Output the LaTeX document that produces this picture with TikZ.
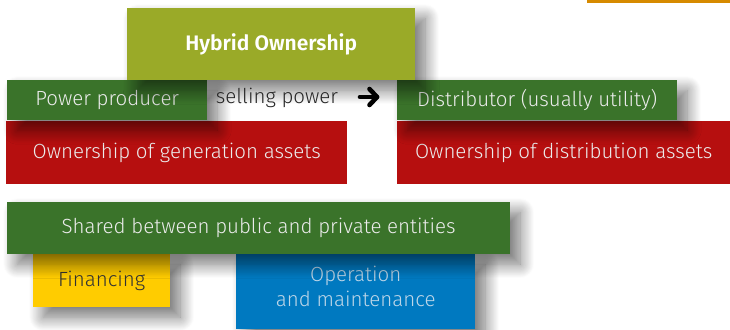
\documentclass[tikz,border=0pt]{standalone}
\usepackage{fontspec}
\setmainfont{Fira Sans Light}[BoldFont=Fira Sans SemiBold]
\usetikzlibrary{shadows.blur}

\definecolor{olive}{RGB}{154,170,40}
\definecolor{leaf}{RGB}{58,115,42}
\definecolor{brick}{RGB}{182,15,15}
\definecolor{sun}{RGB}{255,204,0}
\definecolor{sea}{RGB}{0,121,192}
\definecolor{amber}{RGB}{214,138,0}
\definecolor{paletxt}{RGB}{236,236,236}
\definecolor{icetxt}{RGB}{190,214,232}

\tikzset{
  txt/.style={font=\fontsize{20.5}{25}\selectfont},
  box/.style={rectangle, inner sep=0pt, anchor=north west, align=center,
    txt, text=paletxt},
  drop/.style={blur shadow={shadow xshift=10pt, shadow yshift=-10pt,
    shadow blur radius=14pt, shadow blur steps=16, shadow opacity=55}},
  heavyarrow/.style={line width=4.6pt, line cap=round, line join=round, black},
}

\begin{document}
\begin{tikzpicture}[x=1pt, y=-1pt]
\useasboundingbox (0,0) rectangle (730,329);

% accent bar at the top edge
\fill[amber] (587,0) rectangle (730,3);

% asset ownership boxes
\node[box, fill=brick, minimum width=341pt, minimum height=63pt] (gen) at (6,121)
  {\raisebox{-2pt}{Ownership of generation assets}};
\node[box, fill=brick, minimum width=333pt, minimum height=63pt] (distassets) at (397,121)
  {\raisebox{-2pt}{Ownership of distribution assets}};

% actors
\node[box, fill=leaf, drop, minimum width=200pt, minimum height=40pt] (prod) at (7,80)
  {Power producer};
\node[box, fill=leaf, drop, minimum width=280pt, minimum height=40pt] (dist) at (397,80)
  {Distributor (usually utility)};

% title
\node[box, fill=olive, drop, minimum width=288pt, minimum height=72pt,
  font=\fontsize{21}{25}\selectfont\bfseries, text=white] (title) at (127,8)
  {Hybrid Ownership};

% relation between the actors
\node[txt, text=black!85, inner sep=0pt] (sell) at (277,98)
  {selling power};
\coordinate (tail) at (360,97);
\coordinate (tip) at (377,97);
\draw[heavyarrow] (tail) -- (tip);
\draw[heavyarrow] ([shift={(-7.5,-8)}]tip) -- (tip) -- ([shift={(-7.5,8)}]tip);

% shared responsibilities
\node[box, fill=sun, drop, minimum width=137pt, minimum height=53pt, text=black!80] (fin) at (33,254)
  {Financing};
\node[box, fill=sea, drop, minimum width=239pt, minimum height=75pt] (om) at (236,254) {};
\node[txt, text=icetxt, align=center, inner sep=0pt] (omtext) at ([yshift=5pt]om.center)
  {Operation\\[0pt]and maintenance};
\node[box, fill=leaf, drop, minimum width=503pt, minimum height=52pt] (shared) at (7,202)
  {\raisebox{3pt}{Shared between public and private entities}};
\end{tikzpicture}
\end{document}
